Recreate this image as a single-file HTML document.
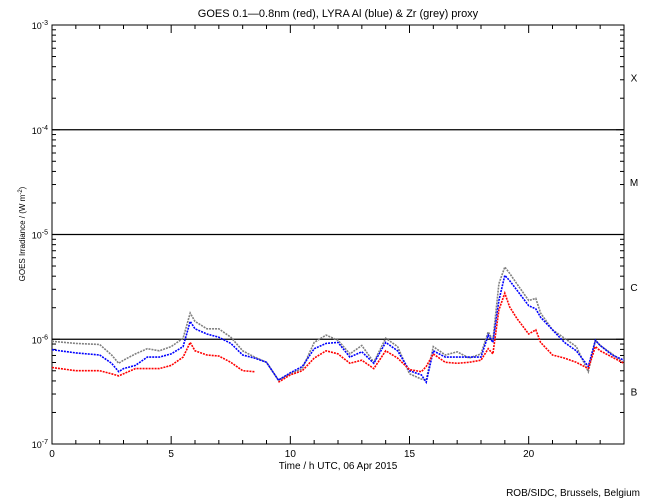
<!DOCTYPE html>
<html><head><meta charset="utf-8"><style>
body{margin:0;background:#fff;}
svg{display:block;font-family:"Liberation Sans",sans-serif;}
</style></head><body>
<svg id="c" width="650" height="500" xmlns="http://www.w3.org/2000/svg"></svg>
<script>
const hours=[0,1,2,2.5,2.8,3,3.5,4,4.5,5,5.5,5.8,6,6.5,7,7.5,8,8.5,9,9.5,10,10.5,11,11.5,12,12.5,13,13.5,14,14.5,15,15.5,15.7,16,16.5,17,17.5,18,18.3,18.5,18.75,19,19.2,19.5,20,20.3,20.5,21,21.5,22,22.5,22.8,23,23.5,24];
const redLog=[-6.27,-6.30,-6.30,-6.33,-6.35,-6.33,-6.28,-6.28,-6.28,-6.25,-6.17,-6.03,-6.11,-6.15,-6.16,-6.22,-6.30,-6.31,null,-6.41,-6.34,-6.30,-6.18,-6.11,-6.14,-6.23,-6.20,-6.28,-6.11,-6.18,-6.29,-6.31,-6.26,-6.14,-6.22,-6.23,-6.22,-6.20,-6.09,-6.14,-5.72,-5.56,-5.69,-5.80,-5.95,-5.91,-6.03,-6.15,-6.18,-6.22,-6.28,-6.07,-6.11,-6.17,-6.23];
const blueLog=[-6.10,-6.13,-6.15,-6.23,-6.31,-6.28,-6.25,-6.17,-6.17,-6.14,-6.07,-5.83,-5.90,-5.95,-5.98,-6.04,-6.15,-6.18,-6.22,-6.39,-6.32,-6.26,-6.09,-6.04,-6.03,-6.17,-6.12,-6.23,-6.03,-6.11,-6.30,-6.34,-6.41,-6.11,-6.17,-6.17,-6.17,-6.17,-5.96,-6.03,-5.63,-5.39,-5.44,-5.53,-5.68,-5.71,-5.79,-5.91,-6.03,-6.11,-6.26,-6.01,-6.06,-6.15,-6.20];
const greyLog=[-6.02,-6.04,-6.05,-6.15,-6.23,-6.20,-6.14,-6.09,-6.11,-6.07,-5.99,-5.75,-5.83,-5.90,-5.90,-5.98,-6.11,-6.17,-6.22,-6.39,-6.33,-6.28,-6.03,-5.96,-6.01,-6.14,-6.06,-6.22,-5.99,-6.07,-6.33,-6.38,-6.39,-6.07,-6.15,-6.12,-6.18,-6.14,-5.93,-6.01,-5.47,-5.31,-5.37,-5.47,-5.63,-5.61,-5.75,-5.91,-5.99,-6.07,-6.31,-6.01,-6.06,-6.14,-6.23];
const xTicks=[0,5,10,15,20];
const yExps=[-7,-6,-5,-4,-3];
const classes=["B","C","M","X"];

const NS="http://www.w3.org/2000/svg";
const svg=document.getElementById('c');
const X0=52,X1=624,Y0=444,Y1=25;
const xs=t=>X0+(X1-X0)*t/24;
const ys=l=>Y0-(Y0-Y1)*(l+7)/4;
function mk(tag,at,parent){const e=document.createElementNS(NS,tag);for(const k in at)e.setAttribute(k,at[k]);(parent||svg).appendChild(e);return e;}

// frame
let fr=mk('rect',{x:X0,y:Y1,width:X1-X0,height:Y0-Y1,fill:'none',stroke:'#000','stroke-width':1});


// class threshold lines
[-6,-5,-4].forEach(e=>{
  const l=mk('line',{x1:X0,x2:X1,y1:ys(e),y2:ys(e),stroke:'#000','stroke-width':1.2});
  
  
});
// y ticks
for(let e=-7;e<-3;e++){for(let k=1;k<10;k++){
  const y=ys(e+Math.log10(k));const len=k==1?8:4;
  mk('line',{x1:X0,x2:X0+len,y1:y,y2:y,stroke:'#000'});
  mk('line',{x1:X1-len,x2:X1,y1:y,y2:y,stroke:'#000'});
}}
yExps.forEach(e=>{
  const t=mk('text',{x:X0-4,y:ys(e)+4,'text-anchor':'end','font-size':9});
  
  
  t.innerHTML='10<tspan dy="-4" font-size="7">'+e+'</tspan>';
});
classes.forEach((c,i)=>{
  const t=mk('text',{x:634,y:ys(-6.5+i)+4,'text-anchor':'middle','font-size':10});
  
  
  t.textContent=c;
});
// x ticks
for(let h=0;h<=24;h++){
  const x=xs(h);const len=h%5==0?8:4;
  mk('line',{x1:x,x2:x,y1:Y0,y2:Y0-len,stroke:'#000'});
  mk('line',{x1:x,x2:x,y1:Y1,y2:Y1+len,stroke:'#000'});
}
xTicks.forEach(h=>{
  const t=mk('text',{x:xs(h),y:Y0+13,'text-anchor':'middle','font-size':10});
  
  
  t.textContent=h;
});
// series
function series(arr,color,name){
  let segs=[],cur=[];
  arr.forEach((v,i)=>{if(v===null){if(cur.length)segs.push(cur);cur=[];}else cur.push(xs(hours[i]).toFixed(1)+','+ys(v).toFixed(1));});
  if(cur.length)segs.push(cur);
  segs.forEach(s=>{
    const p=mk('polyline',{points:s.join(' '),fill:'none',stroke:color,'stroke-width':1.6,'stroke-dasharray':'2 1'});
    
    
  });
}
series(greyLog,'#808080','zr-grey-series');
series(blueLog,'#0000ff','al-blue-series');
series(redLog,'#ff0000','goes-red-series');
// titles
let t=mk('text',{x:338,y:17,'text-anchor':'middle','font-size':11});


t.textContent='GOES 0.1\u20140.8nm (red), LYRA Al (blue) & Zr (grey) proxy';
t=mk('text',{x:338,y:469,'text-anchor':'middle','font-size':10});


t.textContent='Time / h UTC, 06 Apr 2015';
t=mk('text',{x:0,y:0,'text-anchor':'middle','font-size':8,transform:'translate(25,234) rotate(-90)'});


t.innerHTML='GOES Irradiance / (W m<tspan dy="-3" font-size="6">-2</tspan><tspan dy="3">)</tspan>';
t=mk('text',{x:640,y:496,'text-anchor':'end','font-size':10});


t.textContent='ROB/SIDC, Brussels, Belgium';
</script>
</body></html>
